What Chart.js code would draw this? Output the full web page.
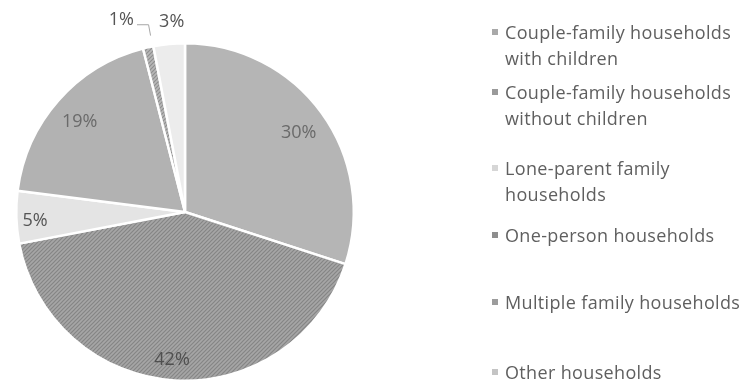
<!DOCTYPE html>
<html>
<head>
<meta charset="utf-8">
<script src="https://cdn.jsdelivr.net/npm/chart.js@4/dist/chart.umd.min.js"></script>
<style>
  html, body { margin: 0; padding: 0; background: #fff; }
  #wrap { position: relative; width: 748px; height: 387px; overflow: hidden; }
  #chart { position: absolute; left: 0; top: 0; }
  #legend { position: absolute; left: 0; top: 0; width: 748px; height: 387px; pointer-events: none;
            font-family: "Open Sans", sans-serif; font-size: 18px; letter-spacing: 0.35px; color: #5f5f5f; }
  .item { position: absolute; left: 505px; line-height: 26px; white-space: nowrap; }
  .swatch { position: absolute; left: -13px; top: 10px; width: 6px; height: 6px; }
</style>
</head>
<body>
<div id="wrap">
  <canvas id="chart" width="748" height="387"></canvas>
  <div id="legend"></div>
</div>
<script>
// Household composition shares (%)
const categories = [
  ["Couple-family households", "with children"],
  ["Couple-family households", "without children"],
  ["Lone-parent family", "households"],
  ["One-person households"],
  ["Multiple family households"],
  ["Other households"]
];
const shares = [30, 42, 5, 19, 1, 3];
const valueLabels = ["30%", "42%", "5%", "19%", "1%", "3%"];

// Styling
const ctx0 = document.getElementById('chart').getContext('2d');
function stripes(light, dark) {
  const c = document.createElement('canvas');
  c.width = 4; c.height = 4;
  const g = c.getContext('2d');
  g.fillStyle = light; g.fillRect(0, 0, 4, 4);
  g.strokeStyle = dark; g.lineWidth = 1.2;
  g.beginPath();
  g.moveTo(0, 4); g.lineTo(4, 0);
  g.moveTo(-1, 1); g.lineTo(1, -1);
  g.moveTo(3, 5); g.lineTo(5, 3);
  g.stroke();
  return ctx0.createPattern(c, 'repeat');
}
const sliceFills = [
  '#b5b5b5',
  stripes('#a6a6a6', '#858585'),
  '#e4e4e4',
  '#b2b2b2',
  stripes('#b8b8b8', '#8f8f8f'),
  '#ececec'
];
const swatchColors = ['#a9a9a9', '#9a9a9a', '#d6d6d6', '#8e8e8e', '#9c9c9c', '#c4c4c4'];
const labelColors = ['#6a6a6a', '#4f4f4f', '#555555', '#6a6a6a', '#555555', '#555555'];
const legendTops = [19, 79, 155, 222, 289, 359];
const labelRadius = [0.82, 0.88, 0.89, 0.82, 1.2, 1.13];
const labelAngleShift = [1.3, 1.4, -1.6, -1.0, -5.7, 1.4];

// Percentage labels placed around each arc
const sliceLabels = {
  id: 'sliceLabels',
  afterDatasetsDraw(chart) {
    const ctx = chart.ctx;
    const arcs = chart.getDatasetMeta(0).data;
    ctx.save();
    ctx.font = '18px "Open Sans", sans-serif';
    ctx.textAlign = 'center';
    ctx.textBaseline = 'middle';
    arcs.forEach((arc, i) => {
      const p = arc.getProps(['x', 'y', 'startAngle', 'endAngle', 'outerRadius'], true);
      const mid = (p.startAngle + p.endAngle) / 2 + labelAngleShift[i] * Math.PI / 180;
      const r = p.outerRadius * labelRadius[i];
      const lx = p.x + Math.cos(mid) * r;
      const ly = p.y + Math.sin(mid) * r;
      ctx.fillStyle = labelColors[i];
      ctx.fillText(valueLabels[i], lx, ly);
      if (labelRadius[i] > 1.15) {
        // leader line from an outside label to its thin slice
        const m = (p.startAngle + p.endAngle) / 2;
        const ex = p.x + Math.cos(m) * (p.outerRadius + 12) + 5;
        const ey = p.y + Math.sin(m) * (p.outerRadius + 12);
        const w = ctx.measureText(valueLabels[i]).width;
        ctx.strokeStyle = '#a6a6a6';
        ctx.lineWidth = 1;
        ctx.beginPath();
        ctx.moveTo(lx + w / 2 + 3, ly + 5);
        ctx.lineTo(ex - 2, ly + 5);
        ctx.lineTo(ex, ey);
        ctx.stroke();
      }
    });
    ctx.restore();
  }
};

new Chart(ctx0, {
  type: 'pie',
  data: {
    labels: categories.map(c => c.join(' ')),
    datasets: [{
      data: shares,
      backgroundColor: sliceFills,
      borderColor: '#ffffff',
      borderWidth: 2.5
    }]
  },
  options: {
    responsive: false,
    animation: false,
    layout: { padding: { left: 15, right: 393, top: 42, bottom: 5 } },
    plugins: { legend: { display: false }, tooltip: { enabled: false } }
  },
  plugins: [sliceLabels]
});

// Legend
const legend = document.getElementById('legend');
categories.forEach((lines, i) => {
  const item = document.createElement('div');
  item.className = 'item';
  item.style.top = legendTops[i] + 'px';
  const sw = document.createElement('div');
  sw.className = 'swatch';
  sw.style.background = swatchColors[i];
  item.appendChild(sw);
  lines.forEach((t, k) => {
    if (k) item.appendChild(document.createElement('br'));
    item.appendChild(document.createTextNode(t));
  });
  legend.appendChild(item);
});
</script>
</body>
</html>
